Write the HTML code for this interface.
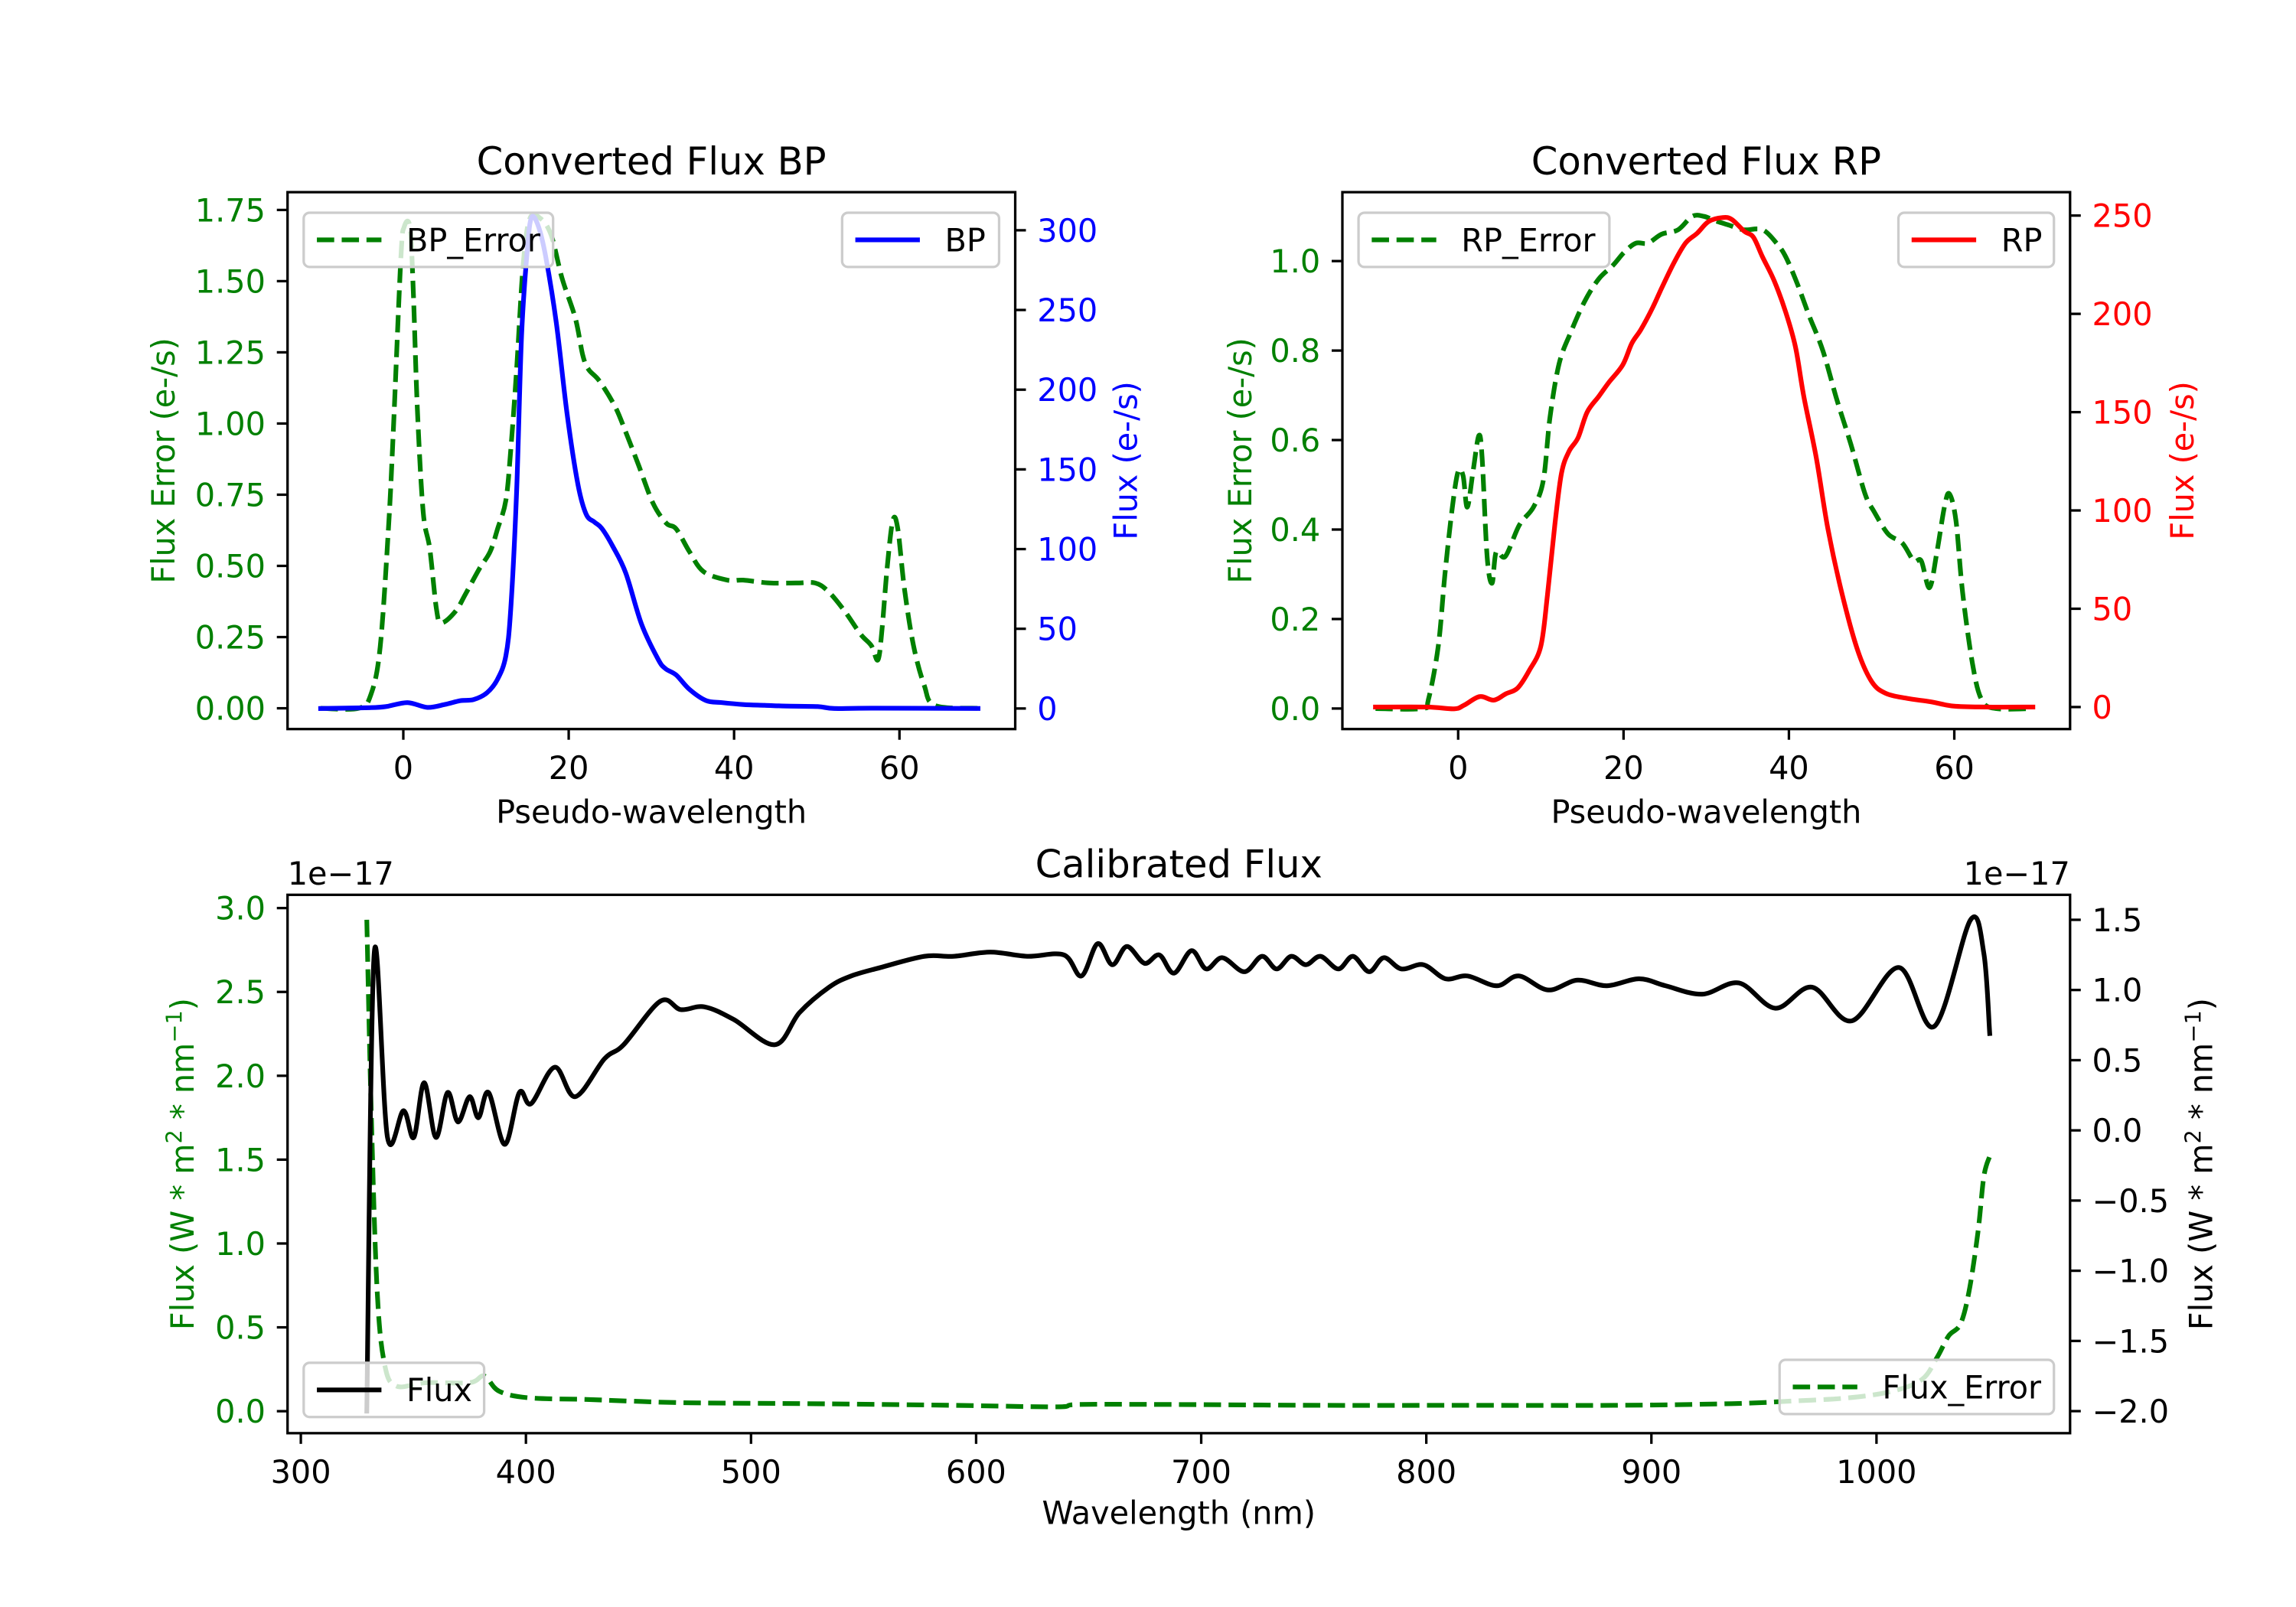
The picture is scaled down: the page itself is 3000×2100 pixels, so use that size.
<!DOCTYPE html>
<html><head><meta charset="utf-8"><style>
html,body{margin:0;padding:0;background:#fff;}
svg{display:block;font-family:"DejaVu Sans","Liberation Sans",sans-serif;}
</style></head><body>
<svg id="fig" width="3000" height="2100" viewBox="0 0 1565 1095.5" xmlns="http://www.w3.org/2000/svg">
<rect x="0" y="0" width="1565" height="1095.5" fill="#fff"/>
</svg>
<script>
// ---------- BP panel data ----------
const bpErrX = [-10,-5.4,-3.9,-2.8,-1.8,-1.2,-0.3,0.1,0.8,1.2,1.7,2.4,3.2,4.0,4.6,6.3,7.5,9.2,10.5,11.4,12.4,13.0,13.7,14.5,15.3,16.6,17.9,19.2,20.8,21.7,22.4,23.7,25.6,26.9,28.5,30.2,31.8,33.0,34.6,36.3,39.2,41.1,44.3,47.5,49.8,51.4,53.4,55.3,56.6,57.4,57.9,58.5,59.2,59.8,60.6,61.7,63.0,64.3,69.5];
const bpErrV = [0,0,0.05,0.215,0.63,0.98,1.58,1.69,1.69,1.47,1.05,0.69,0.56,0.35,0.30,0.34,0.40,0.49,0.55,0.63,0.73,0.91,1.19,1.56,1.72,1.72,1.66,1.51,1.37,1.24,1.19,1.15,1.06,0.97,0.85,0.72,0.65,0.63,0.55,0.48,0.45,0.45,0.44,0.44,0.44,0.41,0.34,0.26,0.22,0.17,0.28,0.49,0.66,0.63,0.42,0.22,0.08,0.01,0];
const bpX = [-10,-4.1,-2.1,0.5,2.9,5.0,6.9,8.5,10.1,11.4,12.4,13.0,13.7,14.3,15.0,15.5,16.3,17.2,18.5,19.8,21.1,22.1,23.1,24.0,25.3,26.9,28.8,30.8,31.7,33.0,34.6,36.6,38.5,41.1,43.7,46.3,50.1,52.1,56.6,69.5];
const bpV = [0,0.5,1.2,3.7,0.7,2.5,4.9,5.6,9.8,18.4,33,63,136,234,288,308,303,284,242,185,141,122,117,113,102,85,53,31,25,21,12,5,3.7,2.5,2,1.5,1.2,0,0.2,0];
const bpXTicks = [0,20,40,60];
const bpLTicks = [0,0.25,0.5,0.75,1.0,1.25,1.5,1.75];
const bpLTickLabels = ["0.00","0.25","0.50","0.75","1.00","1.25","1.50","1.75"];
const bpRTicks = [0,50,100,150,200,250,300];
// ---------- RP panel data ----------
const rpErrX = [-10,-4.4,-3.6,-2.4,-1.6,-0.7,0,0.6,1.1,1.8,2.5,2.9,3.5,4.1,4.6,5.7,7.4,9.1,10.3,11.1,12.2,13.6,15.3,17.0,18.7,20.1,21.5,22.95,24.6,26.6,28.3,29.7,31.1,32.8,34.5,36.8,38.5,39.6,41.0,42.4,44.1,45.8,47.5,49.2,50.3,52.0,53.7,55.1,56.0,57.0,57.9,58.8,59.4,60.2,61.0,62.2,63.3,65.0,69.5];
const rpErrV = [0,0,0.02,0.14,0.30,0.45,0.53,0.52,0.45,0.53,0.61,0.56,0.34,0.28,0.35,0.34,0.41,0.45,0.51,0.65,0.77,0.84,0.91,0.96,0.99,1.02,1.04,1.04,1.06,1.07,1.10,1.10,1.09,1.08,1.07,1.07,1.04,1.01,0.95,0.88,0.80,0.69,0.59,0.48,0.44,0.39,0.37,0.33,0.33,0.27,0.35,0.45,0.48,0.42,0.26,0.10,0.02,0,0];
const rpX = [-10,-3.8,-0.5,0.7,2.6,4.3,5.75,7.2,8.6,10.0,10.8,11.7,12.5,13.4,14.5,15.6,17.0,18.2,19.9,21.0,22.1,23.5,24.6,26.1,27.5,28.9,30.3,32.0,33.1,34.6,35.7,36.8,38.2,39.6,40.8,41.8,43.3,44.7,46.4,48.3,50.0,51.7,54.3,57.1,59.9,63.8,69.5];
const rpV = [0,0,-0.9,0.9,5.3,3.5,6.7,9.7,18.6,31,57,93,119,130,137,150,158,165,174,185,192,203,213,226,236,241,247,249,248,242,239,229,217,201,183,158,127,91,58,29,13,7,4.4,2.7,0.5,0,0];
const rpXTicks = [0,20,40,60];
const rpLTicks = [0,0.2,0.4,0.6,0.8,1.0];
const rpLTickLabels = ["0.0","0.2","0.4","0.6","0.8","1.0"];
const rpRTicks = [0,50,100,150,200,250];
// ---------- Calibrated flux data (units 1e-17) ----------
const calW = [329.3,332.6,338.5,345.6,350.2,354.8,360,365.2,369.8,375,378.9,383.4,390.6,397.1,402.3,412.8,421.9,434.9,443.4,459.7,468.8,479.3,492.3,510.6,521.6,534.7,544.5,557.5,577,590,606.4,622.7,639,646.8,654,660.5,667,674.8,681.4,687.9,695.7,702.2,709.4,719.2,727,733.5,740,746.5,753,760.9,767.4,774.6,781.1,788.9,798.7,808.5,818.3,831.3,841.1,854.1,867.1,880.2,894.5,906.3,922.6,938.9,955.1,971.4,989,1009.9,1025.6,1041.8,1047.7,1050.3];
const calFlux = [-2.0,1.26,-0.05,0.14,-0.05,0.34,-0.05,0.27,0.06,0.24,0.09,0.27,-0.10,0.27,0.19,0.45,0.24,0.51,0.61,0.92,0.86,0.88,0.79,0.61,0.84,1.02,1.10,1.16,1.24,1.24,1.27,1.24,1.25,1.10,1.33,1.18,1.31,1.19,1.25,1.12,1.28,1.15,1.23,1.13,1.24,1.15,1.24,1.18,1.24,1.15,1.24,1.13,1.23,1.15,1.18,1.08,1.10,1.03,1.10,1.00,1.07,1.03,1.08,1.03,0.97,1.05,0.87,1.02,0.78,1.16,0.74,1.50,1.26,0.69];
const errW = [329.3,331.3,333.9,337.2,342.4,355.4,375,381.5,388,401,427.1,446.7,472.8,524.9,590.1,635.7,645.5,687.9,753,818.3,883.4,935.6,961.7,987.8,1007.3,1020.3,1026.9,1032.1,1037.3,1041.2,1045.1,1047.7,1050.3];
const errV = [2.93,1.77,0.72,0.28,0.15,0.17,0.17,0.21,0.12,0.08,0.07,0.06,0.05,0.045,0.035,0.026,0.04,0.04,0.035,0.035,0.035,0.045,0.06,0.08,0.12,0.19,0.32,0.45,0.52,0.72,1.07,1.40,1.52];
const calXTicks = [300,400,500,600,700,800,900,1000];
const calLTicks = [0,0.5,1.0,1.5,2.0,2.5,3.0];
const calLTickLabels = ["0.0","0.5","1.0","1.5","2.0","2.5","3.0"];
const calRTicks = [-2,-1.5,-1,-0.5,0,0.5,1,1.5];
const calRTickLabels = ["\u22122.0","\u22121.5","\u22121.0","\u22120.5","0.0","0.5","1.0","1.5"];

const NS = "http://www.w3.org/2000/svg";
const fig = document.getElementById("fig");
const FS = 21.6, TFS = 25.9, LW = 3.2, TK = 7.3, SW = 1.7;
function el(tag, attrs, parent){ const e=document.createElementNS(NS,tag); for(const k in attrs) e.setAttribute(k,attrs[k]); (parent||fig).appendChild(e); return e; }
function txt(s, attrs, parent){ const e=el("text",attrs,parent); e.textContent=s; return e; }
function scale(d0,d1,p0,p1){ return v => p0 + (v-d0)*(p1-p0)/(d1-d0); }
function smoothPath(xs, ys){
  let d = "M"+xs[0].toFixed(2)+","+ys[0].toFixed(2);
  for(let i=0;i<xs.length-1;i++){
    const x0=xs[Math.max(i-1,0)], y0=ys[Math.max(i-1,0)], x1=xs[i], y1=ys[i], x2=xs[i+1], y2=ys[i+1], x3=xs[Math.min(i+2,xs.length-1)], y3=ys[Math.min(i+2,xs.length-1)];
    const t=0.5/3;
    d += " C"+(x1+(x2-x0)*t).toFixed(2)+","+(y1+(y2-y0)*t).toFixed(2)+" "+(x2-(x3-x1)*t).toFixed(2)+","+(y2-(y3-y1)*t).toFixed(2)+" "+x2.toFixed(2)+","+y2.toFixed(2);
  }
  return d;
}
function series(g, xs, vs, sx, sy, color, dashed, name){
  const p = el("path",{d:smoothPath(xs.map(sx), vs.map(sy)), fill:"none", stroke:color, "stroke-width":LW, "stroke-linejoin":"round", "stroke-linecap": dashed?"butt":"square"}, g);
  if(dashed) p.setAttribute("stroke-dasharray","11.8,5.1");
  
  
  return p;
}
function legend(x,y,w,h,color,dashed,label,name){
  const g = el("g",{});
  
  
  el("rect",{x:x,y:y,width:w,height:h,rx:4,fill:"#fff","fill-opacity":0.8,stroke:"#cccccc","stroke-width":1.7},g);
  const l = el("line",{x1:x+9,x2:x+53,y1:y+h/2,y2:y+h/2,stroke:color,"stroke-width":LW},g);
  if(dashed) l.setAttribute("stroke-dasharray","11.8,5.1");
  txt(label,{x:x+70,y:y+h/2+7.8,"font-size":FS,fill:"#000"},g);
}
function panel(cfg){
  const g = el("g",{});
  
  
  const {x0,x1,y0,y1} = cfg;
  const sx = scale(cfg.xd[0],cfg.xd[1],x0,x1);
  const syL = scale(cfg.yl[0],cfg.yl[1],y1,y0);
  const syR = scale(cfg.yr[0],cfg.yr[1],y1,y0);
  const clipId = cfg.name+"-clip";
  const cp = el("clipPath",{id:clipId},g); el("rect",{x:x0,y:y0,width:x1-x0,height:y1-y0},cp);
  cfg.xt.forEach((v,i)=>{
    const X=sx(v);
    const t=el("line",{x1:X,x2:X,y1:y1,y2:y1+TK,stroke:"#000","stroke-width":SW},g);
     
    txt(String(v),{x:X,y:y1+34,"font-size":FS,"text-anchor":"middle"},g);
  });
  cfg.ylt.forEach((v,i)=>{
    const Y=syL(v);
    el("line",{x1:x0-TK,x2:x0,y1:Y,y2:Y,stroke:"#000","stroke-width":SW},g);
    txt(cfg.yll[i],{x:x0-15,y:Y+7.8,"font-size":FS,"text-anchor":"end",fill:cfg.lc},g);
  });
  cfg.yrt.forEach((v,i)=>{
    const Y=syR(v);
    el("line",{x1:x1,x2:x1+TK,y1:Y,y2:Y,stroke:"#000","stroke-width":SW},g);
    txt(cfg.yrl?cfg.yrl[i]:String(v),{x:x1+15,y:Y+7.8,"font-size":FS,"text-anchor":"start",fill:cfg.rc},g);
  });
  const lines = el("g",{"clip-path":"url(#"+clipId+")"},g);
  cfg.draw(lines, sx, syL, syR);
  el("rect",{x:x0,y:y0,width:x1-x0,height:y1-y0,fill:"none",stroke:"#000","stroke-width":SW},g);
  const tt=txt(cfg.title,{x:(x0+x1)/2,y:y0-12,"font-size":TFS,"text-anchor":"middle"},g);
   
  const xl=txt(cfg.xlabel,{x:(x0+x1)/2,y:y1+cfg.xly,"font-size":FS,"text-anchor":"middle"},g);
   
  const cy=(y0+y1)/2;
  const yl=el("text",{x:0,y:0,"font-size":FS,"text-anchor":"middle",fill:cfg.lc,transform:"translate("+cfg.ylx+","+cy+") rotate(-90)"},g);
  yl.innerHTML = cfg.ylabel;
   
  const yr=el("text",{x:0,y:0,"font-size":FS,"text-anchor":"middle",fill:cfg.rc,transform:"translate("+cfg.yrx+","+cy+") rotate(-90)"},g);
  yr.innerHTML = cfg.yrlabel;
   
  return g;
}
const SUPL = 'Flux (W * m<tspan dy="-8" font-size="15">2</tspan><tspan dy="8"> * nm</tspan><tspan dy="-8" font-size="15">\u22121</tspan><tspan dy="8">)</tspan>';

// BP
panel({name:"bp-panel",x0:196,x1:692,y0:131,y1:497,xd:[-14,74],yl:[-0.073,1.8125],yr:[-12.9,323.9],
  xt:bpXTicks,ylt:bpLTicks,yll:bpLTickLabels,yrt:bpRTicks,lc:"green",rc:"blue",xly:64,
  title:"Converted Flux BP",xlabel:"Pseudo-wavelength",ylabel:"Flux Error (e-/s)",yrlabel:"Flux (e-/s)",ylx:119,yrx:775,
  draw:(g,sx,sl,sr)=>{
    series(g,bpErrX,bpErrV,sx,sl,"green",true,"bp-error-line");
    legend(207,145,170,37,"green",true,"BP_Error","bp-error-legend");
    series(g,bpX,bpV,sx,sr,"blue",false,"bp-flux-line");
  }});
legend(574,145,107,37,"blue",false,"BP","bp-legend");
// RP
panel({name:"rp-panel",x0:915,x1:1411,y0:131,y1:497,xd:[-14,74],yl:[-0.0459,1.154],yr:[-11.2,261.9],
  xt:rpXTicks,ylt:rpLTicks,yll:rpLTickLabels,yrt:rpRTicks,lc:"green",rc:"red",xly:64,
  title:"Converted Flux RP",xlabel:"Pseudo-wavelength",ylabel:"Flux Error (e-/s)",yrlabel:"Flux (e-/s)",ylx:853,yrx:1495,
  draw:(g,sx,sl,sr)=>{
    series(g,rpErrX,rpErrV,sx,sl,"green",true,"rp-error-line");
    legend(926,145,171,37,"green",true,"RP_Error","rp-error-legend");
    series(g,rpX,rpV,sx,sr,"red",false,"rp-flux-line");
  }});
legend(1294,145,106,37,"red",false,"RP","rp-legend");
// Calibrated
panel({name:"calibrated-panel",x0:196,x1:1411,y0:610,y1:977,xd:[294.1,1086.0],yl:[-0.131,3.079],yr:[-2.157,1.678],
  xt:calXTicks,ylt:calLTicks,yll:calLTickLabels,yrt:calRTicks,yrl:calRTickLabels,lc:"green",rc:"#000",xly:62,
  title:"Calibrated Flux",xlabel:"Wavelength (nm)",ylabel:SUPL,yrlabel:SUPL,ylx:132,yrx:1508,
  draw:(g,sx,sl,sr)=>{
    series(g,errW,errV,sx,sl,"green",true,"flux-error-line");
    series(g,calW,calFlux,sx,sr,"#000",false,"flux-line");
  }});
legend(207,929,123,37,"#000",false,"Flux","flux-legend");
legend(1213,927,187,37,"green",true,"Flux_Error","flux-error-legend");
const o1=txt("1e\u221217",{x:196,y:603,"font-size":FS,"text-anchor":"start"});
 
const o2=txt("1e\u221217",{x:1411,y:603,"font-size":FS,"text-anchor":"end"});
 
</script>
</body></html>
